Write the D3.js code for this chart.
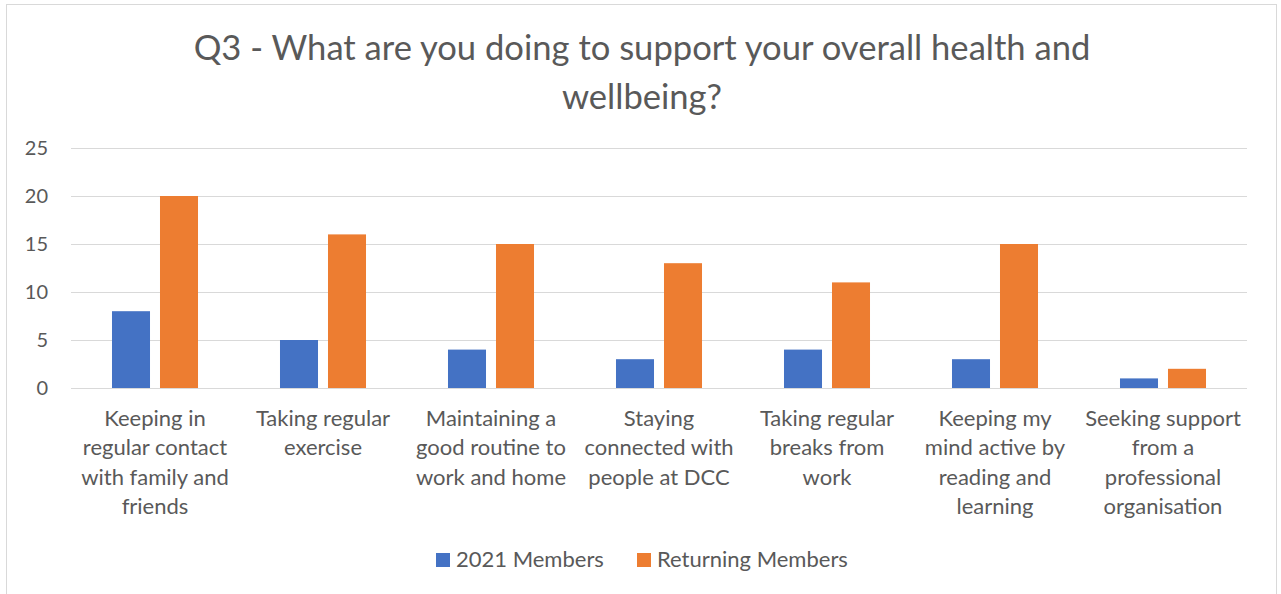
<!DOCTYPE html>
<html><head><meta charset="utf-8">
<script src="https://cdn.jsdelivr.net/npm/d3@7"></script>
<style>body{margin:0;background:#fff;} svg{display:block;font-family:Lato,"Open Sans",sans-serif;}</style>
</head><body>
<svg id="c" width="1281" height="594"></svg>
<script>
const categories = [
  ["Keeping in","regular contact","with family and","friends"],
  ["Taking regular","exercise"],
  ["Maintaining a","good routine to","work and home"],
  ["Staying","connected with","people at DCC"],
  ["Taking regular","breaks from","work"],
  ["Keeping my","mind active by","reading and","learning"],
  ["Seeking support","from a","professional","organisation"]
];
const members2021 = [8, 5, 4, 3, 4, 3, 1];
const returning = [20, 16, 15, 13, 11, 15, 2];
const seriesNames = ["2021 Members", "Returning Members"];
const colors = ["#4472c4", "#ed7d31"];
const yTicks = [0, 5, 10, 15, 20, 25];
const titleLines = ["Q3 - What are you doing to support your overall health and", "wellbeing?"];

const svg = d3.select("#c");
svg.append("rect").attr("x",6.5).attr("y",4.5).attr("width",1270).attr("height",600)
  .attr("fill","#fff").attr("stroke","#d9d9d9");

const x0 = d3.scaleBand().domain(d3.range(categories.length)).range([71,1247]);
const x1 = d3.scaleBand().domain([0,1]).range([0, x0.bandwidth()]).paddingInner(0.208).paddingOuter(0.854);
const y = d3.scaleLinear().domain([0,25]).range([388,148]);

svg.append("g").selectAll("text").data(titleLines).join("text")
  .attr("x",642).attr("y",(d,i)=>60+i*49).attr("text-anchor","middle")
  .attr("font-size",34.6).attr("fill","#595959").text(d=>d);

svg.append("g").selectAll("line").data(yTicks).join("line")
  .attr("x1",71).attr("x2",1247).attr("y1",d=>y(d)+0.5).attr("y2",d=>y(d)+0.5)
  .attr("stroke","#d9d9d9").attr("stroke-width",1);

svg.append("g").selectAll("text").data(yTicks).join("text")
  .attr("x",48).attr("y",d=>y(d)+7).attr("text-anchor","end")
  .attr("font-size",20).attr("fill","#595959").text(d=>d);

const series = [members2021, returning];
series.forEach((vals, s) => {
  svg.append("g").selectAll("rect").data(vals).join("rect")
    .attr("x",(d,i)=>x0(i)+x1(s)).attr("width",x1.bandwidth())
    .attr("y",d=>y(d)).attr("height",d=>y(0)-y(d)).attr("fill",colors[s]);
});

const lab = svg.append("g");
categories.forEach((lines,i)=>{
  const t = lab.append("text").attr("text-anchor","middle").attr("font-size",22).attr("fill","#595959");
  lines.forEach((l,j)=>{
    t.append("tspan").attr("x",x0(i)+x0.bandwidth()/2).attr("y",426+j*29.3).text(l);
  });
});

const leg = svg.append("g");
const legX = [436, 637];
seriesNames.forEach((n,i)=>{
  leg.append("rect").attr("x",legX[i]).attr("y",553).attr("width",14).attr("height",14).attr("fill",colors[i]);
  leg.append("text").attr("x",legX[i]+20).attr("y",567).attr("font-size",22).attr("fill","#595959").text(n);
});
</script>
</body></html>
